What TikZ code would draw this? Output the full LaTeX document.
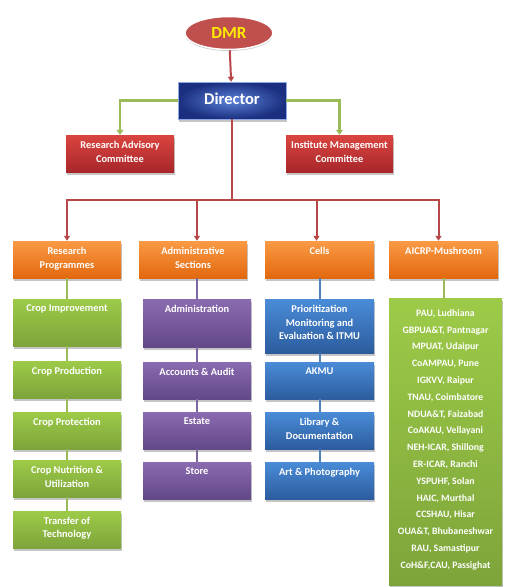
\documentclass[tikz,border=0pt]{standalone}
\usepackage{fontspec}
\setmainfont{Carlito}
\usetikzlibrary{shapes.geometric,shadows,arrows.meta}

\definecolor{dmrred}{HTML}{C0504D}
\definecolor{arrowred}{HTML}{B8474A}
\definecolor{linkgreen}{HTML}{9BBB59}
\definecolor{navy}{HTML}{1B2F80}
\definecolor{dirblue}{HTML}{5B82D8}
\definecolor{commtop}{HTML}{DA4540}
\definecolor{commbot}{HTML}{A8262A}
\definecolor{orgtop}{HTML}{FA9A45}
\definecolor{orgbot}{HTML}{E2680E}
\definecolor{grntop}{HTML}{9DCB48}
\definecolor{grnbot}{HTML}{7DA43A}
\definecolor{purtop}{HTML}{8A6BB0}
\definecolor{purbot}{HTML}{634888}
\definecolor{blutop}{HTML}{4A8CD8}
\definecolor{blubot}{HTML}{2C5C9E}
\definecolor{purline}{HTML}{7C67A0}
\definecolor{bluline}{HTML}{4F81BD}

\begin{document}
\begin{tikzpicture}[x=1pt, y=-1pt,
  boxshadow/.style={drop shadow={shadow xshift=0.5pt, shadow yshift=-2.5pt, fill=black!45, opacity=0.5}},
  unit/.style={rectangle, boxshadow, inner sep=0pt, minimum height=37pt},
  boxtext/.style={anchor=north, inner sep=0pt, yshift=-6pt, text=white, align=center, font=\bfseries\fontsize{10.4}{13.7}\selectfont},
  listtext/.style={anchor=north, inner sep=0pt, yshift=-11.5pt, text=white, align=center, font=\bfseries\fontsize{9.8}{16.8}\selectfont},
  commbox/.style={unit, top color=commtop, bottom color=commbot, minimum width=108pt},
  headbox/.style={unit, top color=orgtop, bottom color=orgbot, minimum width=108pt},
  rpbox/.style={unit, top color=grntop, bottom color=grnbot, minimum width=108pt},
  asbox/.style={unit, top color=purtop, bottom color=purbot, minimum width=108pt},
  cellbox/.style={unit, top color=blutop, bottom color=blubot, minimum width=109pt},
  redarrow/.style={-{Triangle[width=6pt,length=5pt]}, arrowred, line width=2pt},
  greenarrow/.style={-{Triangle[width=7pt,length=5pt]}, linkgreen, line width=2.5pt},
  chain/.style={line width=2pt}]

\useasboundingbox (0,0) rectangle (526,587);

% Top
\node[ellipse, fill=dmrred, draw=white, line width=1.5pt, minimum width=88pt, minimum height=33pt,
  drop shadow={shadow xshift=0pt, shadow yshift=-1.5pt, fill=black!40, opacity=0.5},
  text={rgb,255:red,255;green,236;blue,0}, font=\bfseries\fontsize{17}{20}\selectfont] (dmr) at (229,33) {DMR};
\node[rectangle, draw=dirblue!70!white, inner color=dirblue, outer color=navy, minimum width=108pt, minimum height=37pt,
  boxshadow, text=white, font=\bfseries\fontsize{16.5}{20}\selectfont] (director) at (232,100.5) {\raisebox{4.5pt}{Director}};

\draw[redarrow] (dmr) -- (director);

% Committees
\node[commbox, label={[boxtext]north:Research Advisory\\Committee}] (rac) at (120,153.5) {};
\node[commbox, minimum width=107pt, label={[boxtext]north:Institute Management\\Committee}] (imc) at (339.5,153.5) {};

\draw[greenarrow] (director.west) -| (rac.north);
\draw[greenarrow] (director.east) -| (imc.north);

% Heads
\node[headbox, label={[boxtext]north:Research\\Programmes}] (rp) at (67,259.5) {};
\node[headbox, label={[boxtext]north:Administrative\\Sections}] (as) at (193,259.5) {};
\node[headbox, minimum width=109pt, label={[boxtext]north:Cells}] (cells) at (319.5,259.5) {};
\node[headbox, minimum width=109pt, label={[boxtext]north:AICRP-Mushroom}] (aicrp) at (443.5,259.5) {};

\coordinate (bus) at (director.south |- 0,200);
\draw[arrowred, line width=2pt] (director.south) -- (bus);
\draw[redarrow] (bus) -| (rp.north);
\draw[redarrow] (bus) -| ([xshift=4pt]as.north);
\draw[redarrow] (bus) -| ([xshift=-3pt]cells.north);
\draw[redarrow] (bus) -| ([xshift=-5pt]aicrp.north);

% Research programmes
\node[rpbox, minimum height=47pt, label={[boxtext]north:Crop Improvement}] (ci) at (67,322.5) {};
\node[rpbox, label={[boxtext]north:Crop Production}] (cpd) at (67,379.5) {};
\node[rpbox, label={[boxtext]north:Crop Protection}] (cpt) at (67,430.5) {};
\node[rpbox, label={[boxtext]north:Crop Nutrition \&\\Utilization}] (cnu) at (67,478.5) {};
\node[rpbox, label={[boxtext]north:Transfer of\\Technology}] (tot) at (67,529.5) {};

% Administrative sections
\node[asbox, minimum height=48pt, label={[boxtext]north:Administration}] (adm) at (197,323) {};
\node[asbox, label={[boxtext]north:Accounts \& Audit}] (acc) at (197,380.5) {};
\node[asbox, label={[boxtext]north:Estate}] (est) at (197,430.5) {};
\node[asbox, label={[boxtext]north:Store}] (sto) at (197,480.5) {};

% Cells
\node[cellbox, minimum height=54pt, label={[boxtext]north:Prioritization\\Monitoring and\\Evaluation \& ITMU}] (pme) at (319.5,326) {};
\node[cellbox, label={[boxtext]north:AKMU}] (akmu) at (319.5,380.5) {};
\node[cellbox, label={[boxtext]north:Library \&\\Documentation}] (lib) at (319.5,430.5) {};
\node[cellbox, label={[boxtext]north:Art \& Photography}] (art) at (319.5,480.5) {};

% AICRP centres
\node[unit, top color=grntop, bottom color=grnbot, minimum width=113pt, minimum height=287pt,
  label={[listtext]north:PAU, Ludhiana\\GBPUA\&T, Pantnagar\\MPUAT, Udaipur\\CoAMPAU, Pune\\IGKVV, Raipur\\TNAU, Coimbatore\\NDUA\&T, Faizabad\\CoAKAU, Vellayani\\NEH-ICAR, Shillong\\ER-ICAR, Ranchi\\YSPUHF, Solan\\HAIC, Murthal\\CCSHAU, Hisar\\OUA\&T, Bhubaneshwar\\RAU, Samastipur\\CoH\&F,CAU, Passighat}] (centres) at (445.5,441.5) {};

% Links
\draw[chain, linkgreen] (rp) -- (ci) -- (cpd) -- (cpt) -- (cnu) -- (tot);
\draw[chain, purline] (adm.north |- as.south) -- (adm) -- (acc) -- (est) -- (sto);
\draw[chain, bluline] (cells) -- (pme) -- (akmu) -- (lib) -- (art);
\draw[chain, linkgreen] (centres.north -| aicrp.south) -- (aicrp.south);
\end{tikzpicture}
\end{document}
